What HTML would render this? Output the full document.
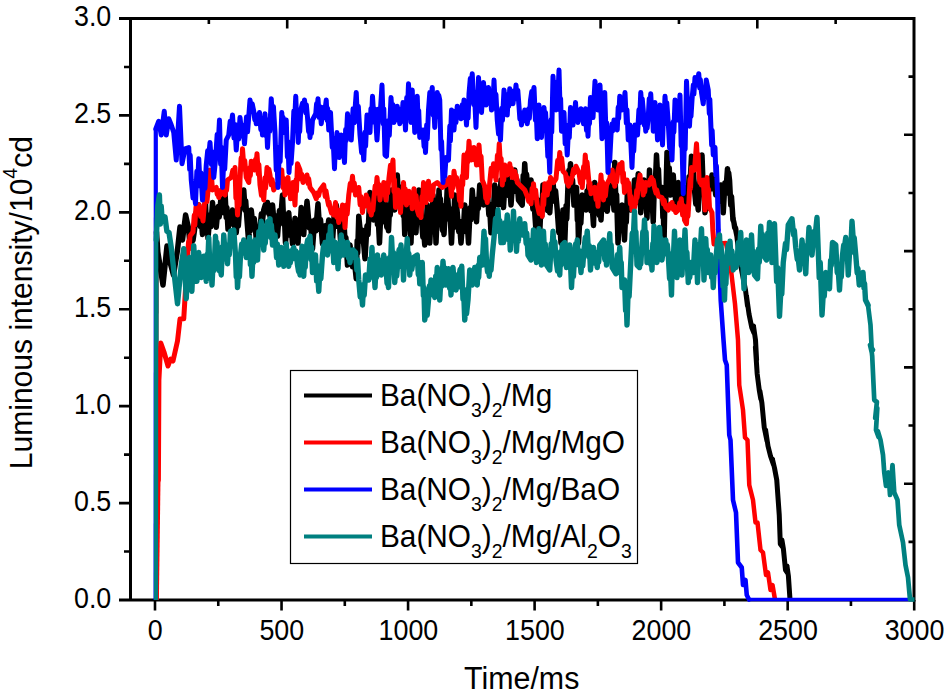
<!DOCTYPE html><html><head><meta charset="utf-8"><title>chart</title><style>html,body{margin:0;padding:0;background:#fff}body{width:944px;height:699px;overflow:hidden;position:relative;font-family:"Liberation Sans",sans-serif}</style></head><body>
<svg width="944" height="699" viewBox="0 0 944 699" style="position:absolute;left:0;top:0;font-family:'Liberation Sans',sans-serif">
<rect width="944" height="699" fill="#fff"/>
<g stroke="#000" stroke-width="3" fill="none" stroke-linecap="butt">
<path d="M130.5,17.0V601.5M914,17.0V601.5M119.0,18.5H915.5M119.0,600H915.5"/>
</g>
<g stroke="#000" stroke-width="2.6" fill="none">
<path d="M155.00,600V610.5M281.54,600V610.5M408.07,600V610.5M534.61,600V610.5M661.14,600V610.5M787.68,600V610.5M914.21,600V610.5M218.27,600V606M344.80,600V606M471.34,600V606M597.87,600V606M724.41,600V606M850.94,600V606M130.5,503.08H119.0M130.5,406.17H119.0M130.5,309.25H119.0M130.5,212.33H119.0M130.5,115.42H119.0M130.5,551.54H124.0M130.5,454.62H124.0M130.5,357.71H124.0M130.5,260.79H124.0M130.5,163.88H124.0M130.5,66.96H124.0M208.85,18.5V24.0M914,541.85H908.5M287.20,18.5V28.5M914,483.70H904M365.55,18.5V24.0M914,425.55H908.5M443.90,18.5V28.5M914,367.40H904M522.25,18.5V24.0M914,309.25H908.5M600.60,18.5V28.5M914,251.10H904M678.95,18.5V24.0M914,192.95H908.5M757.30,18.5V28.5M914,134.80H904M835.65,18.5V24.0M914,76.65H908.5"/>
</g>
<g fill="none" stroke="#000" stroke-linejoin="round" stroke-linecap="round">
<polyline stroke-width="4.2" points="156.2,600 156.5,232" stroke-linecap="butt"/>
<polyline stroke-width="5.5" points="156.5,232 157.8,252 163,285 167,246 170,262 173.5,275 177.5,250 180,227 182.5,240 185.6,215 188.5,228 189.54,239.16 190.04,231.91 191,243 192.31,234.37 193.01,240.48 194.5,230 196.06,212.84 196.91,222.91 198.75,205 200.23,226.38 200.98,215.4 202.5,234.475 203.59,212.48 204.19,221.71 205.5,203.75 206.47,226.32 206.97,214.46 208,238.1 209.91,215.81 210.81,226.82 212.5,202.5 214.02,221.37 214.77,210.59 216.25,227.225 218.21,206.49 219.21,216.91 221.25,195 222.34,207.92 222.84,199.36 223.75,212.725 225,192.5 226.24,217.25 226.84,207.49 228,229.037 229.84,214.62 230.74,223.66 232.5,210 234.05,225.7 234.8,216.75 236.25,232.662 237.65,215.22 238.3,226.04 239.5,210 241.12,195.11 241.97,204.14 243.75,190 245.02,210.1 245.67,200.79 247,219.975 248.75,243 249.69,220.84 250.19,230.79 251.25,210 253.27,228.8 254.27,218.52 256.25,238.1 257.88,231.18 258.63,235.81 260,229.037 261.4,213.81 262.15,223.25 263.75,210 265.24,204.92 265.99,208.44 267.5,202.5 268.55,213.37 269.05,206.96 270,216.35 271,208.68 271.5,213.69 272.5,205 274.37,225.76 275.37,215.81 277.5,236.287 279.48,210.53 280.48,221.46 282.5,195 283.72,224.2 284.32,214.36 285.5,243 286.88,221.6 287.53,231.55 288.75,212.725 290.34,235.43 291.09,225.3 292.5,243.75 293.38,226.49 293.88,236.71 295,218.162 296.29,233.88 296.89,224.32 298,243 299.25,219.67 299.9,229.23 301.25,207.5 302.28,226.21 302.78,215.89 303.75,234.475 305.02,211.37 305.67,220.87 307,201.25 309.33,227.87 310.43,220.91 312.5,248.75 314.62,219.9 315.72,231.08 318,203.75 319.58,229.42 320.48,219.41 322.5,243.75 325.24,225.69 326.49,236.9 328.75,219.975 330.27,236.79 331.02,226.19 332.5,241.725 334.09,216.25 334.84,225.84 336.25,205 338.05,226.47 338.9,217.13 340.5,239.912 341.68,224.18 342.33,232.85 343.75,216.35 345.11,244.35 345.86,237.44 347.5,265 348.4,251.47 348.9,260.17 350,245 352.62,266.85 353.87,255.8 356.25,278.75 357.19,240.7 357.69,252.92 358.75,216.35 361.24,241.03 362.49,230.17 365,258.75 366.99,225.85 367.99,234.67 370,192.5 371.58,209.8 372.33,199.56 373.75,219.975 374.66,202.3 375.16,211.04 376.25,195 377.46,224.27 378.11,216.05 379.5,243 380.81,211.9 381.41,222.51 382.5,190 384.04,208.98 384.74,198.73 386,219.975 386.88,227.49 387.38,222.8 388.5,230.85 389.66,204.67 390.26,215.11 391.5,190 392.75,204.38 393.4,193.68 394.75,210 395.75,187.44 396.25,197.07 397.25,175 398.37,196.06 398.87,186.52 399.75,205 400.82,192.4 401.32,201.99 402.25,187.5 403.32,215.7 403.82,205.76 404.75,234.475 406.04,210.92 406.69,220.49 408,195 409.13,220.32 409.73,213.13 411,243 411.9,213.65 412.4,223.64 413.5,200 414.4,220.77 414.9,210.56 416,232.662 417.18,204.65 417.78,214.11 419,190 419.92,211 420.42,200.15 421.5,219.975 422.85,237.09 423.5,227.51 424.75,245 425.67,217.22 426.17,227.39 427.25,205 428.26,227.29 428.76,216.79 429.75,243 431.12,214.99 431.77,227.08 433,195 434.32,220.74 434.92,211.36 436,243 437.18,213.75 437.78,222.46 439,190 439.88,208.02 440.38,198.64 441.5,219.975 442.53,230.56 443.03,222.69 444,234.475 445.46,205.26 446.11,214.58 447.25,187.5 449.03,219.09 449.88,208.86 451.5,243 452.79,215.73 453.44,227.68 454.75,195 455.66,207.62 456.16,199.85 457.25,212.725 458.72,231.46 459.47,222.22 461,243 462.67,220.99 463.42,229.76 464.75,205 466.29,231.58 467.04,219.94 468.5,243 470.17,207.63 470.92,219.75 472.25,190 473.99,211.8 474.84,202.9 476.5,221.787 477.68,198.91 478.33,208.47 479.75,185 481.12,198.51 481.87,189.99 483.5,205 485.13,195.06 485.88,202.23 487.25,190 488.86,214.83 489.61,206.03 491,232.662 492.44,204.56 493.19,214.06 494.75,185 496.16,199.71 496.91,189.54 498.5,205 499.57,188.25 500.07,198.6 501,180 501.98,200.77 502.48,190.01 503.5,207.5 504.83,184.67 505.58,195.12 507.25,175 508.9,195.65 509.65,185.08 511,205 512.69,181.36 513.44,191.92 514.75,170 516.14,190.46 516.89,179.61 518.5,200 522.25,205 523.22,175.53 523.72,186.36 524.75,163.75 525.94,184.78 526.59,174.34 528,195 529.35,183.57 529.95,191.69 531,180 532.89,209.09 533.89,200.52 536,230.85 536.87,208.87 537.27,217.96 538,200 539.75,232.662 541,204.73 541.65,216.49 543,185 544.29,198.62 544.89,189.28 546,205 547.54,210.48 548.29,207.05 549.75,212.725 551.05,193.38 551.7,201.81 553,182.5 554.7,200.75 555.55,190.81 557.25,210 558.86,232.61 559.61,220.98 561,243 561.75,220.61 562.15,230.28 563,210 564.75,243 566.1,205.73 566.75,218.91 568,185 568.94,170.25 569.44,179.73 570.5,163.75 571.82,190.63 572.52,179.88 574,205 575.04,193.02 575.54,200.3 576.5,187.5 577.37,220.02 577.77,208.45 578.5,243 580.07,214.51 580.82,223.4 582.25,195 583.83,205.96 584.58,199.26 586,210 587.08,190.92 587.68,202.11 589,185 590.92,210.8 591.82,200.86 593.5,225.412 594.75,182.5 596.2,198.2 596.85,188.55 598,205 599.34,215.4 599.94,209.13 601,219.975 602.21,198.35 602.81,209.62 604,185 605.23,201.96 605.88,190.98 607.25,211.25 608.9,192.86 609.65,202.14 611,185 612.3,203.07 612.9,193.01 614,210 614.75,162.5 615.94,206.6 616.59,194.66 618,243 619.69,216.32 620.49,228.29 622,205 623.06,227.55 623.56,219.59 624.5,239.912 625.67,212.43 626.27,222.46 627.5,190 628.75,203.91 629.4,193.45 630.75,210 632.25,190.14 633,201.11 634.5,180 635.37,197.32 635.77,185.78 636.5,202.5 638.25,173.75 639.23,197.77 639.73,186.86 640.75,212.725 642.14,192.7 642.79,203.28 644,180 645.09,201.35 645.69,192.22 647,218.162 647.96,190.22 648.46,199.34 649.5,170 650.91,200.42 651.66,190.82 653.25,221.787 654.41,182.28 655.06,190.96 656.5,155 657.83,180.53 658.43,169.21 659.5,195 660.42,189.36 660.92,192.61 662,187.5 662.89,217.06 663.29,206.6 664,243 665.15,188.38 665.75,203.11 667,152.5 668.44,179.58 669.19,167.67 670.75,195 671.77,178.41 672.27,188.6 673.25,175 674.29,192.44 674.79,184.04 675.75,205 676.74,186.6 677.24,198.34 678.25,182.5 679.87,200.41 680.62,189.53 682,207.5 683.11,192.43 683.61,201.38 684.5,187.5 685.82,202.96 686.42,192.17 687.5,210 689.08,176.83 689.88,187.48 691.5,156.25 692.63,179.43 693.23,169.64 694.5,190 695.83,203.93 696.58,194.92 698.25,210 699.82,176.98 700.57,187.77 702,155 703.31,191.36 703.91,182.59 705,212.725 706.36,199.89 707.01,208.67 708.25,195 709.61,179.45 710.36,188.61 712,175 713.32,189.07 714.07,179.01 715.75,195 717.79,186.89 718.79,191.63 720.75,185 721.82,201.78 722.32,191.81 723.25,212.725 724.88,183.09 725.73,193.56 727.5,168.75 728.21,177.48 728.61,172.62 729.5,180 730.77,204.98 731.47,196.43 733,219.975"/>
<polyline stroke-width="5.0" points="733,217.5 734.5,228 733.8,221 736.75,236 735.8,228 738.5,250 740,262 745.5,290 747.5,306 746.5,296 749,314 751.75,327.5 754,333 753.5,326 755.5,340 756.6,360 755.4,347 757.2,374 759.25,390 760.8,399 759.9,391 761.9,403 764.25,427.5 767,441 765.6,430 768,446 770.5,456 773.6,465 772.4,459 774.5,468 776.75,480 779.25,515 780.3,544 782.6,547 781.9,540 783.4,549 785.5,570 787.6,573 787,566 788.4,576 790,599.5" stroke-linecap="butt"/>
</g>
<g fill="none" stroke="#ff0000" stroke-linejoin="round" stroke-linecap="round">
<polyline stroke-width="4.2" points="156.8,600 158.4,480" stroke-linecap="butt"/>
<polyline stroke-width="5.0" points="158.4,480 158.9,380 160.8,343 164,352 168,366 170.6,359 173,361 177.5,341 180,319 183.75,318.75 187.5,256 188.62,241.17 189.12,248.77 190,236 193,232 194.22,215.31 194.82,225.17 196,207 199,205 200.61,216.29 201.41,210.07 203,221 205.56,192.17 206.96,201.64 210,170 211,184.66 211.5,176.59 212.5,190 216.25,187.5 217.17,194.25 217.67,190.31 218.75,197.5 219.66,191.96 220.16,195.19 221.25,190 225,195 226.05,183.84 226.55,190.48 227.5,180 231.25,177.5 232.82,170.22 233.57,174.46 235,167.5 235.88,198.22 236.38,187.43 237.5,215 238.59,194.54 239.09,205.12 240,180 241.11,158.05 241.61,169.41 242.5,148.75 243.98,168.66 244.73,160.48 246.25,177.5 248.75,182.5 249.83,167.88 250.33,175.58 251.25,161.25 252.64,166.87 253.29,163.42 254.5,170 255.47,159.48 255.97,165 257,153.75 258.27,174.05 258.87,164.48 260,185 261.45,195.34 262.2,189.56 263.75,200 264.97,177.73 265.62,188 267,167.5 268.29,172.25 268.89,169.26 270,175 271.35,184.83 272.1,179.51 273.75,190 276.25,185 278.75,182.5 279.83,174.48 280.43,179.24 281.75,170 282.91,187.49 283.56,178.27 285,195 286.06,182.89 286.66,189.66 288,177.5 288.97,193.07 289.47,184.09 290.5,198.75 291.46,188.21 291.96,194.65 293,182.5 295,205 295.94,180.05 296.44,191.21 297.5,163.75 300,170 301.22,179.19 301.82,174.26 303,182.5 304.8,177.31 305.6,180.1 307,175 308.05,183.44 308.65,178.58 310,187.5 313.75,192.5 316.25,198.75 317.86,192.69 318.61,195.56 320,190 323.75,185 325.22,196.54 325.97,190.68 327.5,200 328.58,205.2 329.08,201.99 330,207.5 331.53,213.03 332.28,209.92 333.75,215 335.5,202.5 336.83,217.36 337.48,209.65 338.75,222.5 340.1,210.21 340.85,216.02 342.5,205 343.57,219.86 344.07,212.09 345,227.5 346.47,204.9 347.22,213.99 348.75,195 350.24,183.45 350.99,190.11 352.5,176.25 353.7,190.45 354.3,182.93 355.5,195 356.84,190.23 357.49,192.78 358.75,187.5 360.14,204.68 360.89,196.46 362.5,212.5 364.18,199.07 364.93,206.21 366.25,195 367.22,202.28 367.72,198.2 368.75,205 369.86,211.77 370.36,208.19 371.25,215 372.37,205.23 372.87,210.6 373.75,200 375.13,185.91 375.78,193.43 377,177.5 378.31,191.78 378.91,184.39 380,200 381.52,187.38 382.27,194.45 383.75,182.5 386,200 387.07,182.79 387.67,192.92 389,177.5 390.46,165.34 391.26,172.23 393,160 393.95,191.79 394.45,179.48 395.5,207.5 396.52,195.07 397.02,201.83 398,190 399.11,206.47 399.61,197.26 400.5,212.5 401.83,191.93 402.43,202.58 403.5,182.5 404.7,197.56 405.3,188.97 406.5,205 407.47,195.06 407.97,199.96 409,191.25 410.44,202.77 411.09,195.92 412.25,208.75 414,188.75 415.42,204.19 416.07,195.44 417.25,210 418.86,215.21 419.61,212.34 421,217.5 421.89,196.74 422.39,206.92 423.5,182.5 424.49,196.71 424.99,188.89 426,202.5 426.93,187.74 427.43,195.3 428.5,181.25 429.48,193.68 429.98,186.72 431,200 432.04,190.91 432.54,196.35 433.5,185 437.25,182.5 439.75,185 442.25,187.5 446,185 447.58,179.49 448.33,182.49 449.75,177.5 451.5,196.25 452.53,178.64 453.03,187.75 454,171.25 455.6,183.03 456.5,177.57 458.5,187.5 459.49,200.65 459.99,193.16 461,206.25 462.13,176.34 462.73,184.85 464,155 464.94,171.14 465.44,162.52 466.5,177.5 467.42,152.48 467.92,161.75 469,141.25 469.88,153.67 470.38,147.26 471.5,160 472.52,150.76 473.02,155.38 474,147.5 474.93,160.13 475.43,152.81 476.5,165 477.56,150.9 478.06,158.09 479,145 480.43,165.36 481.08,156.31 482.25,180 484.75,186.25 485.74,198.42 486.24,191.88 487.25,202.5 488.27,189.7 488.77,196.53 489.75,182.5 491.15,168.16 491.9,176.14 493.5,163.75 494.39,173.47 494.89,167.67 496,180 497.39,155.37 498.04,165.14 499.25,143.75 500.54,168.23 501.14,158.49 502.25,185 503.26,172.77 503.76,180.15 504.75,165 505.63,171.41 506.13,167.98 507.25,175 508.33,166.83 508.83,170.93 509.75,163.75 510.82,173.06 511.32,168.26 512.25,177.5 514.75,171.25 515.65,178.77 516.15,174.86 517.25,182.5 521,186.25 524.75,190 527.25,196.25 528.7,201.21 529.45,198.26 531,203.75 532.07,188.42 532.57,196.87 533.5,183.75 534.83,197.65 535.58,189.89 537.25,205 539.2,213.46 540.2,209.07 542.25,216.25 543.21,194.47 543.71,204.79 544.75,183.75 545.69,191.77 546.19,186.9 547.25,195 548.55,182.48 549.2,189.53 550.5,177.5 553.5,182.5 556,178.75 557.62,160.6 558.37,169.01 559.75,152.5 560.96,165.02 561.61,158.03 563,171.25 565.5,173.75 566.65,182.08 567.25,177.53 568.5,186.25 569.97,179.46 570.72,183.02 572.25,176.25 573.64,169.2 574.39,172.96 576,166.25 579,172.5 580.38,182.64 581.03,177.99 582.25,187.5 583.54,166.79 584.14,177.52 585.25,155 586.42,170.08 587.07,162.11 588.5,177.5 589.44,188.17 589.94,183 591,193.75 594.75,187.5 596.07,199.38 596.72,192.16 598,206.25 599.18,184.92 599.78,194.76 601,175 602.04,192.4 602.54,181.87 603.5,200 604.8,190.23 605.4,195.96 606.5,185 609.75,178.75 610.77,172.92 611.27,176.25 612.25,170 613.33,182.6 613.83,175.85 614.75,186.25 616,175.64 616.65,181.88 618,170 619.46,164.64 620.26,167.07 622,162.5 622.9,182.29 623.4,172.69 624.5,192.5 625.58,184.34 626.08,189.43 627,180 627.99,186.27 628.49,182.65 629.5,190 630.41,203.82 630.91,196.17 632,210 633.68,204.95 634.43,207.84 635.75,202.5 636.66,190.52 637.16,197.59 638.25,185 640,175 641.37,188.7 642.02,181.42 643.25,195 644.17,187 644.67,192.05 645.75,182.5 649,185 650.11,179.77 650.61,182.89 651.5,177.5 652.69,183.98 653.29,180.09 654.5,187.5 656.01,193 656.76,190.02 658.25,196.25 662,197.5 663.44,203.92 664.19,200.18 665.75,207.5 668.25,210 669.82,204.34 670.57,207.49 672,202.5 673.39,209.48 674.14,206.2 675.75,212.5 678.25,210 679.59,202.87 680.19,206.79 681.25,198.75 682.6,215.03 683.25,205.58 684.5,220 686.5,223.75 687.47,206.23 687.97,216.43 689,200 690.06,179.23 690.56,188.45 691.5,167.5 694.5,170 696.5,143.75 697.61,164.57 698.11,154.31 699,177.5 699.91,182.55 700.41,179.98 701.5,185 703.25,180 705,210 707,177.5 708.04,198.7 708.54,189.16 709.5,207.5 712,212.5 712.8,230 714,244"/>
<polyline stroke-width="4.5" points="714,244 726,243 731,270 735,304 738,340 739.25,385 743,410 745,437.5 747.5,440 749.25,485 753,500 755.5,522.5 757.5,522.5 760.5,550 763,552.5 766,575 768,572.5 770.5,590 772.5,585 775,599.5" stroke-linecap="butt"/>
</g>
<g fill="none" stroke="#0000ff" stroke-linejoin="round" stroke-linecap="round">
<polyline stroke-width="4.2" points="155.6,600 155.8,129" stroke-linecap="butt"/>
<polyline stroke-width="5.0" points="155.8,129 158.75,121.25 161.25,135 164.25,111.25 166.25,135 168.75,118.75 171.25,125 173.75,132.5 176.25,160 179.5,106.25 182,163.75 185,148.75 188.75,147.5 189.69,169.57 190.19,155.05 191.25,180 193.02,198.02 193.87,187.85 195.5,203.75 196.85,171.21 197.5,186.05 198.75,158.75 200.12,185.79 200.87,172.71 202.5,200 204.19,175.56 204.94,188.48 206.25,165 207.68,150.69 208.43,159.37 210,142.5 211.41,164.54 212.16,151.65 213.75,177.5 215.5,160 217.17,134.49 217.97,148.33 219.5,120 220.6,164.11 221.2,146.94 222.5,187.5 223.97,157.58 224.72,169.03 226.25,140 228.75,135 230.19,121.22 230.94,128.84 232.5,115 233.98,138.07 234.73,124.15 236.25,150 237.9,125.03 238.65,139.19 240,117.5 242.02,135.92 242.92,125.15 244.5,143.75 246.49,116.97 247.59,131.81 250,100 251.45,108.33 252.2,103.65 253.75,111.25 254.79,119.64 255.29,114.51 256.25,123.75 257.63,115.02 258.28,119.81 259.5,112.5 260.81,129.57 261.41,119.96 262.5,135 263.59,119.43 264.09,127.16 265,113.75 265.91,135.73 266.41,121.69 267.5,147.5 269,119.38 269.75,131.3 271.25,98.75 272.67,121.32 273.42,106.39 275,132.5 276.24,170.14 276.84,155.43 278,187.5 279.41,147.11 280.16,161.7 281.75,112.5 282.63,125.08 283.13,117.31 284.25,132.5 286.25,120 287.38,156.98 287.93,141.49 289,172.5 290.35,151.13 291.05,163.49 292.5,142.5 293.83,111.06 294.48,124.84 295.75,96.25 296.82,124.14 297.32,113.24 298.25,142.5 299.21,117.03 299.71,131.52 300.75,110 302.43,103.38 303.18,107.59 304.5,100 305.75,112.68 306.35,104.78 307.5,117.5 308.6,131.61 309.1,122.36 310,137.5 311,126.09 311.5,133.24 312.5,120 315.75,113.75 316.55,103.85 317,109.67 318,98.75 319.19,117.52 319.84,106.54 321.25,123.75 323,107.44 324,117.58 326.25,100 327.14,120.49 327.64,108.3 328.75,130 330.5,112.5 332.26,147.38 333.06,138.08 334.5,168.75 335.4,144.17 335.9,155.78 337,132.5 337.83,149.27 338.28,138.89 339.25,157.5 341.25,135 342.44,153.05 343.09,141.85 344.5,162.5 345.66,129.42 346.26,140.5 347.5,113.75 349.03,130.67 349.78,121.32 351.25,140 353.08,108.75 354.08,122.83 356.25,92.5 357.57,121.52 358.32,106.29 360,135 361.6,152.62 362.35,141.61 363.75,160 364.96,132.35 365.61,146.25 367,115 368.19,127.63 368.79,119.56 370,132.5 370.93,108.64 371.43,121.85 372.5,96.25 374.12,122.35 375.02,109.09 377,140 378.95,108.94 379.95,118.35 382,85 383.19,123.94 383.79,108.65 385,155 386.5,156.25 388.4,120.85 389.3,135.51 391,97.5 392.25,115.18 392.85,104.45 394,122.5 395.2,112.06 395.85,118.5 397.25,106.25 398.3,119.96 398.8,112.46 399.75,123.75 401.07,109.14 401.72,118.98 403,102.5 403.89,121.54 404.39,109.89 405.5,130 406.73,97.59 407.33,113.52 408.5,83.75 409.58,107.78 410.08,96.06 411,122.5 412.25,90 413.16,116.46 413.66,103 414.75,132.5 415.7,108.45 416.2,122.4 417.25,96.25 418.19,124.35 418.69,110.47 419.75,137.5 420.98,132.73 421.63,135.38 423,130 424.08,146.51 424.58,137.2 425.5,152.5 426.68,124.96 427.28,138.95 428.5,110 429.82,92.44 430.57,103.45 432.25,87.5 433.2,115.14 433.7,103.2 434.75,127.5 435.83,102.16 436.33,116.83 437.25,92.5 438.26,98.21 438.76,95.31 439.75,100 440.94,149.48 441.59,141.3 443,182.5 444.17,165.34 444.77,176.32 446,157.5 448.5,160 449.81,126.02 450.41,140.9 451.5,110 452.61,124.33 453.11,115.47 454,130 455.3,111.38 455.95,122.46 457.25,106.25 458.69,115.08 459.44,110.77 461,118.75 462.28,104.7 462.88,113.34 464,100 464.88,117.83 465.38,108.19 466.5,125 467.61,103.71 468.11,118.16 469,93.75 470.32,78.59 470.97,87.34 472.25,73.75 473.71,104.56 474.46,92.36 476,127.5 476.95,98.43 477.45,109.83 478.5,77.5 479.82,102.34 480.42,90.9 481.5,112.5 483.5,82.5 484.56,97.45 485.06,87.57 486,105 486.95,92.68 487.45,98.89 488.5,87.5 489.73,103.6 490.33,93.99 491.5,110 492.61,90.62 493.11,101.92 494,80 495.3,108.61 495.95,94.29 497.25,120 498.55,133.91 499.2,124.37 500.5,140 501.77,108.13 502.47,120.38 504,90 505.42,106.22 506.07,96.66 507.25,115 508.31,94.34 508.81,106.06 509.75,88.75 511.06,99.12 511.71,92.13 513,103.75 514.25,90.68 514.85,98.29 516,85 517.19,99.16 517.79,90.15 519,106.25 519.88,119.01 520.38,112.31 521.5,125 522.8,113.77 523.45,120.64 524.75,110 525.69,120.56 526.19,114.97 527.25,123.75 528.7,108.85 529.35,118.33 530.5,100 531.78,91.45 532.48,96.73 534,87.5 535.4,120.15 536.05,106.63 537.25,138.75 539,105 540.01,126.02 540.51,113.79 541.5,137.5 542.42,116.48 542.92,129.26 544,107.5 545.03,120.47 545.53,112.49 546.5,127.5 547.86,156.59 548.51,142.17 549.75,172.5 551.1,119.67 551.75,132.09 553,76.25 554.25,97.33 554.85,83.6 556,110 557.25,82.09 557.85,97.79 559,70 560.11,110.25 560.61,98.55 561.5,131.25 562.39,117.66 562.89,125.82 564,112.5 565.17,143.82 565.82,128.14 567.25,155 568.64,125.04 569.29,137.54 570.5,107.5 571.58,119.83 572.08,113.6 573,125 573.99,109.3 574.49,119.26 575.5,102.5 576.42,117.7 576.92,109.35 578,122.5 579.3,113.59 579.9,118.93 581,108.75 581.96,119.44 582.46,112.91 583.5,123.75 585.5,108.75 586.48,130.42 586.98,118.04 588,136.25 589.01,111.4 589.51,123.77 590.5,97.5 591.54,112.55 592.04,103.58 593,117.5 595,81.25 596.26,99.74 596.86,89.15 598,110 600,85 602,138.75 603.22,108.91 603.77,124.5 604.75,92.5 606.07,137.18 606.72,122.87 608,172.5 609.07,150.26 609.67,161.32 611,135 612.06,123.94 612.66,130.95 614,120 615.42,127.04 616.07,122.56 617.25,130 618.19,107.32 618.69,118.29 619.75,96.25 620.74,105.75 621.19,99.51 622,110 623.13,97.86 623.73,105.87 625,92.5 626.33,123.25 626.98,109.8 628.25,140 630,125 632,167.5 633.15,137.23 633.75,151.23 635,125 636.07,132.77 636.57,128.62 637.5,135 638.91,109.85 639.56,122.86 640.75,92.5 641.74,105.85 642.24,98.64 643.25,110 644.29,125.19 644.79,116.38 645.75,131.25 646.65,122.62 647.15,128.17 648.25,117.5 649.24,98.67 649.74,109.41 650.75,93.75 651.84,116.51 652.34,104.17 653.25,131.25 655,102.5 655.91,127.35 656.41,114.77 657.5,140 658.38,113.83 658.88,127.43 660,105 660.98,132.94 661.48,120.07 662.5,145 663.45,114.3 663.95,124.26 665,96.25 666.15,112.45 666.8,102.64 668.25,122.5 669.61,148.14 670.36,132.82 672,160 673.28,121.69 673.88,132.13 675,100 676.09,114.17 676.59,105.82 677.5,120 678.61,101.09 679.11,112.62 680,95 681.18,146.06 681.83,135.89 683.25,193.75 684.51,130.93 685.16,149.32 686.5,81.25 687.81,110.1 688.41,99.1 689.5,126.25 690.51,105.41 691.01,116.33 692,100 693.29,84.89 693.89,94.13 695,77.5 697,85 698.75,73.75 699.75,87.99 700.3,79.46 701.5,92.5 703.25,103.75 704.5,87.89 705.1,97.6 706.25,80 708.25,90 709.32,113.54 709.82,99.16 710.75,122.5 711.65,145.12 712.15,130.37 713.25,155 715,147.5 715.91,175.32 716.41,165.86 717.5,192.5 718.3,230"/>
<polyline stroke-width="4.6" points="718.3,230 720.7,300 723.5,340 725,360 726.75,365 729.25,435 730.5,440 733,500 736,512.5 738,562.5 741.75,567.5 743,585 745.5,580 746.75,595 749,599.5"/>
<polyline stroke-width="3.6" points="749,599.5 910.5,599.5" stroke-linecap="butt"/>
</g>
<g fill="none" stroke="#008080" stroke-linejoin="round" stroke-linecap="round">
<polyline stroke-width="4.2" points="156,600 156.2,240" stroke-linecap="butt"/>
<polyline stroke-width="5.4" points="156.2,240 157.8,206 159.4,195 160.4,224 161.2,206 161.88,216.25 165,216.88 166.88,231.25 169,232.5 171.25,247.5 177.5,303.75 181.25,265 183.75,248.75 186.25,298.75 187.49,269.95 188.12,282.95 189.38,257.5 190.4,282.58 190.9,271.33 191.88,291.25 193.75,245.62 195.07,270.99 195.7,258.99 196.88,281.25 198.75,252.5 199.65,271.94 200.15,261.05 201.25,277.5 202.35,261.61 202.85,269.99 203.75,256.25 204.72,273.38 205.22,261.51 206.25,281.25 207.27,254.16 207.77,263.29 208.75,237.5 209.93,269.11 210.58,256.98 212,285 213.36,256.81 214.06,270.59 215.5,236.25 216.5,254.01 217,242.26 218,262.5 219.4,270.69 220.05,266.08 221.25,275 222.35,246.82 222.85,259.24 223.75,235 225.29,255.94 226.04,244.97 227.5,263.75 228.68,244.35 229.28,254.87 230.5,231.25 233.75,230 235.5,255 236.27,276.55 236.67,263.43 237.5,287.5 238.82,266.52 239.42,276.9 240.5,255 241.71,244.11 242.36,251.38 243.75,240 244.71,253.32 245.21,245.15 246.25,257.5 247.46,244.01 248.11,252.4 249.5,237.5 250.4,264.53 250.9,250.75 252,276.25 253.15,250.24 253.75,262.4 255,240 256.1,254.69 256.6,246.88 257.5,260 258.86,231.75 259.61,243.6 261.25,221.25 262.21,243.8 262.71,230.05 263.75,250 264.76,234.97 265.26,243.35 266.25,227.5 267.59,221.65 268.34,225.1 270,218.75 270.88,237.49 271.38,224.83 272.5,245 273.58,237.18 274.08,241.31 275,235 276.57,257.47 277.32,243.94 278.75,265 279.79,252.5 280.29,260.44 281.25,247.5 282.25,260.93 282.75,253.16 283.75,266.25 284.84,250.73 285.34,261.77 286.25,243.75 287.19,260.66 287.69,250.5 288.75,266.25 289.85,257.34 290.35,262.81 291.25,252.5 293.75,247.5 295.14,258.84 295.89,250.97 297.5,265 298.59,271.59 299.09,267.58 300,275 300.77,252.1 301.17,265.15 302,246.25 303.75,276.25 304.71,254.84 305.21,267.32 306.25,247.5 307.67,239.96 308.42,244.78 310,236.25 311.04,259.37 311.54,247.03 312.5,272.5 313.56,260.63 314.16,267.94 315.5,255 316.64,280.95 317.29,268.8 318.75,291.25 320.08,265.75 320.83,278.93 322.5,255 323.56,245.67 324.06,250.97 325,242.5 326,251.33 326.5,245.57 327.5,255 328.8,234.66 329.4,245.99 330.5,226.25 331.95,251.16 332.6,240.16 333.75,262.5 335.5,242.5 336.58,262.05 337.08,249.62 338,268.75 339.31,244.19 339.96,256.51 341.25,235 342.37,248.88 342.87,240.85 343.75,255 345.08,246.9 345.83,251.55 347.5,242.5 348.47,257.85 348.97,249.36 350,262.5 351.07,253.3 351.67,257.89 353,250 355.5,252.5 356.92,270.41 357.57,259.65 358.75,280 360.24,297.04 360.99,286.46 362.5,305 363.58,284.42 364.18,295.39 365.5,275 368.75,280 370.11,259.08 370.76,270.28 372,247.5 373.07,277.06 373.67,262.65 375,287.5 376.1,266.49 376.6,277.22 377.5,255 378.85,270.26 379.6,260.6 381.25,275 382.32,259.8 382.82,268.86 383.75,255 384.65,263.52 385.1,258.28 386,267.5 387.05,283.33 387.55,274.39 388.5,287.5 389.72,257.52 390.32,269.72 391.5,237.5 392.92,264.79 393.57,252.72 394.75,282.5 396.05,266.32 396.7,276.11 398,260 399.06,249.66 399.66,256.66 401,245 401.97,266.75 402.47,253.3 403.5,280 404.88,253.06 405.63,264.13 407.25,238.75 408.35,264.9 408.85,253.57 409.75,275 411.09,261.34 411.84,269.27 413.5,257.5 417.25,255 418.28,274.51 418.78,261.86 419.75,283.75 420.79,268.59 421.29,278.05 422.25,262.5 423.36,295.46 423.86,287.54 424.75,320 426.43,306.94 427.18,315.31 428.5,300 429.42,285.83 429.92,295.21 431,280 432.61,292.68 433.36,284.51 434.75,297.5 435.7,276.09 436.2,286.78 437.25,267.5 438.32,290.56 438.82,279.63 439.75,300 441.04,275.68 441.69,286.37 443,261.25 444.3,278.74 444.9,268.02 446,285 446.98,274.2 447.48,281.35 448.5,268.75 449.62,287.97 450.12,276.84 451,295 451.82,276.79 452.22,287.13 453,267.5 454.17,283.13 454.77,274.56 456,290 457.34,282.06 457.94,287.29 459,277.5 460.05,269.59 460.6,274.63 461.75,266.25 462.95,298.8 463.55,288.99 464.75,320 465.9,304.52 466.55,313.7 468,300 469.75,270 470.73,280.15 471.23,273.69 472.25,285 473.26,271.15 473.76,279.88 474.75,267.5 475.65,281.66 476.15,273.3 477.25,285 478.15,265.57 478.65,277.69 479.75,257.5 480.69,263.41 481.19,260.16 482.25,265 484,231.25 485,251.63 485.5,238.7 486.5,262.5 487.59,272.06 488.14,266.29 489.25,276.25 490.37,261.86 490.97,270.24 492.25,255 494,237.5 495.52,218.73 496.32,230.91 498,210 499.28,231.81 499.88,220.61 501,242.5 503.5,242.5 504.95,222.77 505.7,236.09 507.25,215 508.51,239.71 509.11,226.67 510.25,250 511.68,224.12 512.33,236.26 513.5,211.25 514.61,236.68 515.21,223.52 516.5,251.25 517.72,227.37 518.37,241.39 519.75,218.75 520.64,230.9 521.14,223.7 522.25,235 523.17,225.99 523.67,231.51 524.75,223.75 526.13,243.41 526.78,233.21 528,255 531,260 531.98,240.03 532.48,251.21 533.5,230 534.61,252.88 535.21,242.22 536.5,262.5 537.5,238.67 538,249.13 539,228.75 539.99,252.17 540.49,240.01 541.5,265 542.38,241.09 542.78,252.62 543.5,231.25 544.64,256.08 545.24,243.86 546.5,265 549.75,270 551.14,243.73 551.79,254.78 553,231.25 554.28,254.09 554.88,241.6 556,260 557.59,271.15 558.34,264.43 559.75,275 560.68,251.71 561.18,264.93 562.25,245 564.75,242.5 566.5,267.5 567.74,249.64 568.39,260.47 569.75,245 571.5,287.5 572.77,264.29 573.42,276.49 574.75,252.5 575.69,243.84 576.19,248.96 577.25,240 578.62,264.86 579.37,250.63 581,272.5 582.16,256.21 582.76,266.15 584,250 585.27,237.5 585.92,245.14 587.25,231.25 588.68,256.51 589.33,245.69 590.5,270 591.62,254.39 592.22,263.53 593.5,247.5 594.85,262.96 595.6,253.3 597.25,267.5 598.22,251.89 598.72,262.1 599.75,245 603.5,240 604.81,259.59 605.41,247.71 606.5,265 607.64,243.01 608.29,252.62 609.75,233.75 610.63,257.93 611.13,244.81 612.25,267.5 616,273.75 617.56,254.59 618.31,265.7 619.75,247.5 620.76,273.03 621.21,262.34 622,287.5 623.1,282.01 623.6,285.15 624.5,280 625.62,310.29 626.12,296.27 627,325 628.34,284.32 629.09,296.68 630.75,262.5 632.21,233.29 632.96,245.23 634.5,211.25 635.41,244.05 635.91,231.64 637,265 639.5,267.5 640.39,257.38 640.79,263.98 641.5,252.5 642.79,231.8 643.39,242.13 644.5,220 645.59,243.39 646.09,232.02 647,262.5 648.33,255.65 648.93,260.08 650,252.5 650.73,264.41 651.13,257.32 652,270 652.81,243.74 653.21,256.78 654,226.25 655.14,249.93 655.74,237.18 657,262.5 658.05,239.05 658.55,251.52 659.5,227.5 660.56,250.24 661.06,238.49 662,260 663.58,245.42 664.33,254.14 665.75,240 666.77,251.3 667.27,244.43 668.25,255 669.59,278.68 670.24,266.26 671.5,295 672.55,253.53 673.15,264.58 674.5,231.25 675.51,258.68 676.01,246.6 677,277.5 678.29,252.31 678.89,264.71 680,240 680.76,262.89 681.16,252.96 682,275 683.21,246.3 683.81,257 685,230 686.25,261.87 686.9,252.3 688.25,282.5 689.25,268.14 689.75,277.57 690.75,262.5 691.64,269.97 692.14,265.75 693.25,272.5 695,240 696.01,269.31 696.51,255.8 697.5,282.5 699.11,244.36 699.91,257.07 701.5,228.75 702.62,261.64 703.12,249.17 704,280 705.75,238.75 706.8,260.19 707.3,249.4 708.25,272.5 709.27,258.94 709.77,266.68 710.75,255 711.65,277.13 712.15,263.59 713.25,287.5 714.56,261.3 715.21,272.85 716.5,252.5 717.62,239.43 718.22,246.76 719.5,235 720.53,256.56 721.03,244.84 722,262.5 723,286.14 723.5,273.85 724.5,300 725.42,273.06 725.92,283.82 727,255 728.26,244.63 728.86,251.36 730,241.25 731.28,263.4 731.93,251.07 733.25,270 734.84,264.92 735.59,267.73 737,262.5 738.34,242.52 739.09,254.8 740.75,232.5 741.95,265.26 742.6,257.36 744,288.75 744.95,254.65 745.45,266.09 746.5,240 747.42,261.48 747.92,250.57 749,272.5 750.11,247.03 750.61,259.52 751.5,235 752.69,260.15 753.29,250.96 754.5,275 757.5,278.75 758.67,248.94 759.32,262.06 760.75,226.25 761.83,245.78 762.33,234.18 763.25,255 766.5,260 767.78,233.17 768.38,244.23 769.5,222.5 770.4,245.96 770.9,235.72 772,262.5 773,239.01 773.5,252.34 774.5,223.75 776.64,281.34 777.64,267.57 779.5,316.25 781.04,287.35 781.79,294.13 783.25,262.5 785.5,243.4 786.5,249.6 788.25,225 792,218.75 793.6,234.87 794.35,230.51 795.75,247.5 797.3,259.3 798.05,256.53 799.5,270 800.56,252.43 801.06,256.98 802,240 803.6,256.72 804.35,253.08 805.75,273.75 806.89,245.33 807.54,252.64 809,227.5 810.25,243.11 810.85,239.19 812,255 814.03,231.7 815.03,236.75 817,217.5 819.24,277.69 820.24,262.51 822,315 823.5,289.77 824.25,296.21 825.75,272.5 827.3,282.78 828.05,279.58 829.5,288.75 830.61,260.57 831.21,265.52 832.5,242.5 835.75,245 837.22,272.57 837.97,266.37 839.5,290 840.66,269.97 841.26,276.99 842.5,255 843.7,245.1 844.35,247.63 845.75,237.5 846.65,257.32 847.15,251.01 848.25,275 849.85,247.39 850.6,252.91 852,221.25 853.46,242.53 854.21,237.78 855.75,255 857.2,273.1 857.9,268.36 859.25,285 860.7,278.31 861.45,280.7 863,272.5 864.04,288.42 864.54,283.47 865.5,300 868,305"/>
<polyline stroke-width="4.7" points="868,305 870.5,325 871.75,350 873,350 870,345 871.75,352.5 871,346 872.2,356 874.25,400 876.9,402 875.2,418 877.3,408 876,430 878.5,437 877.8,431 880.5,440 883,455 884.25,472.5 886,486 888.5,472.5 890,495 892.5,465 894.25,492.5 897.5,500 899.25,525 903,542.5 905.5,565 908,577.5 910,599.5 914.5,599.5" stroke-linecap="butt"/>
</g>
<g font-size="30" fill="#000">
<text transform="translate(155.3,640.2) scale(0.895,1)" text-anchor="middle">0</text>
<text transform="translate(281.8,640.2) scale(0.895,1)" text-anchor="middle">500</text>
<text transform="translate(408.4,640.2) scale(0.895,1)" text-anchor="middle">1000</text>
<text transform="translate(534.9,640.2) scale(0.895,1)" text-anchor="middle">1500</text>
<text transform="translate(661.4,640.2) scale(0.895,1)" text-anchor="middle">2000</text>
<text transform="translate(788.0,640.2) scale(0.895,1)" text-anchor="middle">2500</text>
<text transform="translate(914.5,640.2) scale(0.895,1)" text-anchor="middle">3000</text>
<text transform="translate(111.3,607.8) scale(0.895,1)" text-anchor="end">0.0</text>
<text transform="translate(111.3,510.9) scale(0.895,1)" text-anchor="end">0.5</text>
<text transform="translate(111.3,414.0) scale(0.895,1)" text-anchor="end">1.0</text>
<text transform="translate(111.3,317.1) scale(0.895,1)" text-anchor="end">1.5</text>
<text transform="translate(111.3,220.1) scale(0.895,1)" text-anchor="end">2.0</text>
<text transform="translate(111.3,123.2) scale(0.895,1)" text-anchor="end">2.5</text>
<text transform="translate(111.3,26.3) scale(0.895,1)" text-anchor="end">3.0</text>
</g>
<text transform="translate(521.7,689) scale(1,1.035)" font-size="30.4" text-anchor="middle">Time/ms</text>
<text transform="translate(32,469.2) rotate(-90) scale(1,1.06)" font-size="30.05">Luminous intensity/10<tspan font-size="19.4" dy="-14.2">4</tspan><tspan dy="14.2">cd</tspan></text>
<rect x="290.5" y="370.5" width="347" height="193" fill="#fff" stroke="#000" stroke-width="1.2"/>
<line x1="304" x2="372" y1="395.4" y2="395.4" stroke="#000" stroke-width="4"/>
<text transform="translate(380,405.6) scale(1,1.06)" font-size="29.8">Ba(NO<tspan font-size="19.4" dy="11.1">3</tspan><tspan dy="-11.1">)</tspan><tspan font-size="19.4" dy="11.1">2</tspan><tspan dy="-11.1">/Mg</tspan></text>
<line x1="304" x2="372" y1="442.4" y2="442.4" stroke="#ff0000" stroke-width="4"/>
<text transform="translate(380,452.6) scale(1,1.06)" font-size="29.8">Ba(NO<tspan font-size="19.4" dy="11.1">3</tspan><tspan dy="-11.1">)</tspan><tspan font-size="19.4" dy="11.1">2</tspan><tspan dy="-11.1">/Mg/MgO</tspan></text>
<line x1="304" x2="372" y1="489.4" y2="489.4" stroke="#0000ff" stroke-width="4"/>
<text transform="translate(380,499.6) scale(1,1.06)" font-size="29.8">Ba(NO<tspan font-size="19.4" dy="11.1">3</tspan><tspan dy="-11.1">)</tspan><tspan font-size="19.4" dy="11.1">2</tspan><tspan dy="-11.1">/Mg/BaO</tspan></text>
<line x1="304" x2="372" y1="536.4" y2="536.4" stroke="#008080" stroke-width="4"/>
<text transform="translate(380,546.6) scale(1,1.06)" font-size="29.8">Ba(NO<tspan font-size="19.4" dy="11.1">3</tspan><tspan dy="-11.1">)</tspan><tspan font-size="19.4" dy="11.1">2</tspan><tspan dy="-11.1">/Mg/Al</tspan><tspan font-size="19.4" dy="11.1">2</tspan><tspan dy="-11.1">O</tspan><tspan font-size="19.4" dy="11.1">3</tspan></text>
</svg>
</body></html>
